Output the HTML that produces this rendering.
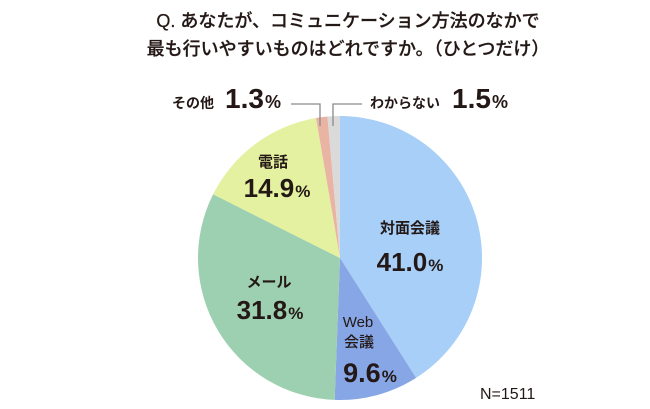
<!DOCTYPE html>
<html>
<head>
<meta charset="utf-8">
<style>
  html, body { margin:0; padding:0; background:#ffffff; }
  body { width:650px; height:409px; overflow:hidden; }
  svg { display:block; }
  .jp { font-family: "Liberation Sans", "Noto Sans CJK JP", sans-serif; }
  .num { font-family: "Liberation Sans", sans-serif; font-weight:bold; }
</style>
</head>
<body>
<svg width="650" height="409" viewBox="0 0 650 409" xmlns="http://www.w3.org/2000/svg">
  <rect width="650" height="409" fill="#ffffff"/>

  <!-- Title -->
  <text class="jp" x="348" y="27" font-size="18" font-weight="500" text-anchor="middle" fill="#231815" stroke="#231815" stroke-width="0.25">Q. あなたが、コミュニケーション方法のなかで</text>
  <text class="jp" x="348" y="55" font-size="18" font-weight="500" text-anchor="middle" fill="#231815" stroke="#231815" stroke-width="0.25">最も行いやすいものはどれですか。（ひとつだけ）</text>

  <!-- Pie slices: center (340,258), r=142 -->
  <path d="M340,258 L340,116 A142,142 0 0 1 416.1,377.9 Z" fill="#a7cff8"/>
  <path d="M340,258 L416.1,377.9 A142,142 0 0 1 334.65,399.9 Z" fill="#86a6e6"/>
  <path d="M340,258 L334.65,399.9 A142,142 0 0 1 213.1,194.3 Z" fill="#9dd0b0"/>
  <path d="M340,258 L213.1,194.3 A142,142 0 0 1 316.0,118.0 Z" fill="#e3f1a0"/>
  <path d="M340,258 L316.0,118.0 A142,142 0 0 1 327.5,116.55 Z" fill="#eab4a4"/>
  <path d="M340,258 L327.5,116.55 A142,142 0 0 1 340,116 Z" fill="#dadada"/>

  <!-- Leader lines -->
  <polyline points="291,104 320,104 320,126" fill="none" stroke="#8a8a8a" stroke-width="1.3"/>
  <polyline points="362,104 333,104 333,126" fill="none" stroke="#8a8a8a" stroke-width="1.3"/>

  <!-- Outside labels -->
  <text class="jp" x="172" y="108" font-size="14" font-weight="bold" fill="#231815">その他</text>
  <text class="num" x="225" y="108" fill="#231815"><tspan font-size="28">1.3</tspan><tspan font-size="18" dx="1">%</tspan></text>

  <text class="jp" x="370" y="108" font-size="14" font-weight="bold" fill="#231815">わからない</text>
  <text class="num" x="452" y="108" fill="#231815"><tspan font-size="28">1.5</tspan><tspan font-size="18" dx="1">%</tspan></text>

  <!-- Inside labels -->
  <text class="jp" x="410" y="233" font-size="15" font-weight="bold" text-anchor="middle" fill="#231815">対面会議</text>
  <text class="num" x="410" y="271" text-anchor="middle" fill="#231815"><tspan font-size="26">41.0</tspan><tspan font-size="17" dx="1">%</tspan></text>

  <text class="jp" x="269" y="287" font-size="15" font-weight="bold" text-anchor="middle" fill="#231815">メール</text>
  <text class="num" x="270" y="319" text-anchor="middle" fill="#231815"><tspan font-size="26">31.8</tspan><tspan font-size="17" dx="1">%</tspan></text>

  <text class="jp" x="358" y="327" font-size="15" font-weight="500" text-anchor="middle" fill="#231815">Web</text>
  <text class="jp" x="359" y="347" font-size="15" font-weight="500" text-anchor="middle" fill="#231815">会議</text>
  <text class="num" x="370" y="382" text-anchor="middle" fill="#231815"><tspan font-size="27">9.6</tspan><tspan font-size="17" dx="1">%</tspan></text>

  <text class="jp" x="273" y="167" font-size="15" font-weight="bold" text-anchor="middle" fill="#231815">電話</text>
  <text class="num" x="277" y="197" text-anchor="middle" fill="#231815"><tspan font-size="26">14.9</tspan><tspan font-size="17" dx="1">%</tspan></text>

  <!-- N -->
  <text x="480" y="399" font-family="Liberation Sans, sans-serif" font-size="16" fill="#231815">N=1511</text>
</svg>
</body>
</html>
